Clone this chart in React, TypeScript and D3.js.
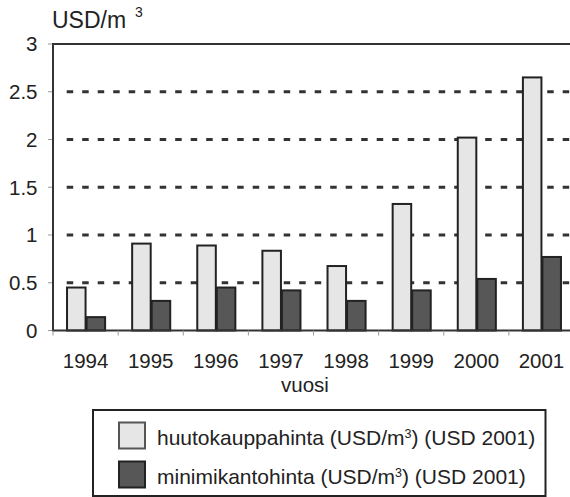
import React from "react";
import * as d3 from "d3";

const years = ["1994", "1995", "1996", "1997", "1998", "1999", "2000", "2001"];
const auctionPrice = [0.45, 0.91, 0.89, 0.835, 0.675, 1.325, 2.02, 2.65];
const minimumPrice = [0.14, 0.31, 0.45, 0.42, 0.31, 0.42, 0.54, 0.77];
const yTicks = [0, 0.5, 1, 1.5, 2, 2.5, 3];
const gridValues = [0.5, 1, 1.5, 2, 2.5];
const seriesKeys = ["huutokauppahinta", "minimikantohinta"];

const W = 570;
const H = 497;
const FONT = "'Liberation Sans', Arial, sans-serif";
const LIGHT = "#e6e6e6";
const DARK = "#575757";
const STROKE = "#222";

export default function App() {
  const left = 53;
  const right = 574;
  const top = 44;
  const bottom = 330.5;

  const x = d3.scaleBand<string>().domain(years).range([left, right]).paddingInner(0.4).paddingOuter(0.2);
  const sub = d3.scaleBand<string>().domain(seriesKeys).range([0, x.bandwidth()]).padding(0);
  const y = d3.scaleLinear().domain([0, 3]).range([bottom, top]);
  const step = x.step();
  const boundaries = d3.range(years.length + 1).map((i) => left + i * step);

  const series = [
    { key: seriesKeys[0], values: auctionPrice, fill: LIGHT },
    { key: seriesKeys[1], values: minimumPrice, fill: DARK },
  ];

  return (
    <svg width={W} height={H} style={{ position: "absolute", left: 0, top: 0, background: "#fff" }} fontFamily={FONT}>
      {/* title */}
      <text x={52} y={28} fontSize={23} fill="#222">USD/m</text>
      <text x={135} y={17} fontSize={14} fill="#222">3</text>

      {/* grid lines */}
      {gridValues.map((v) => (
        <line key={v} x1={left + 13.7} x2={W} y1={y(v)} y2={y(v)} stroke="#333" strokeWidth={3} strokeDasharray="6.5 9" />
      ))}
      {/* top border */}
      <line x1={left} x2={W} y1={y(3)} y2={y(3)} stroke="#333" strokeWidth={2} />

      {/* y ticks & labels */}
      {yTicks.map((v) => (
        <g key={v}>
          <line x1={left - 5} x2={left} y1={y(v)} y2={y(v)} stroke="#999" strokeWidth={1} />
          <text x={37.5} y={y(v)} dy="0.36em" textAnchor="end" fontSize={20.5} fill="#222">
            {v}
          </text>
        </g>
      ))}

      {/* bars */}
      {series.map((s) =>
        years.map((yr, i) => {
          const bx = (x(yr) as number) + (sub(s.key) as number);
          const by = y(s.values[i]);
          return (
            <rect
              key={s.key + yr}
              x={bx + 1}
              y={by}
              width={sub.bandwidth() - 1}
              height={y(0) - by}
              fill={s.fill}
              stroke={STROKE}
              strokeWidth={2}
            />
          );
        })
      )}

      {/* axes */}
      <line x1={left} x2={left} y1={top - 1} y2={bottom + 1} stroke="#333" strokeWidth={2} />
      <line x1={left} x2={W} y1={bottom} y2={bottom} stroke="#333" strokeWidth={2} />
      {boundaries.map((bx, i) => (
        <line key={i} x1={bx} x2={bx} y1={bottom} y2={bottom + 5} stroke="#999" strokeWidth={1} />
      ))}

      {/* x labels */}
      {years.map((yr) => (
        <text key={yr} x={(x(yr) as number) + x.bandwidth() / 2} y={368} textAnchor="middle" fontSize={20.5} fill="#222">
          {yr}
        </text>
      ))}
      <text x={305} y={392} textAnchor="middle" fontSize={20.5} fill="#222">vuosi</text>

      {/* legend */}
      <rect x={93} y={410} width={452.5} height={86} fill="#fff" stroke="#222" strokeWidth={2} />
      {series.map((s, i) => (
        <g key={s.key} transform={`translate(0, ${i * 39})`}>
          <rect x={119} y={422.5} width={26} height={26} fill={s.fill} stroke={i === 0 ? "#555" : STROKE} strokeWidth={2} />
          <text x={157} y={445} fontSize={21} fill="#222">
            {s.key} (USD/m
            <tspan fontSize={12.5} dy={-7}>3</tspan>
            <tspan dy={7}>) (USD 2001)</tspan>
          </text>
        </g>
      ))}
    </svg>
  );
}
